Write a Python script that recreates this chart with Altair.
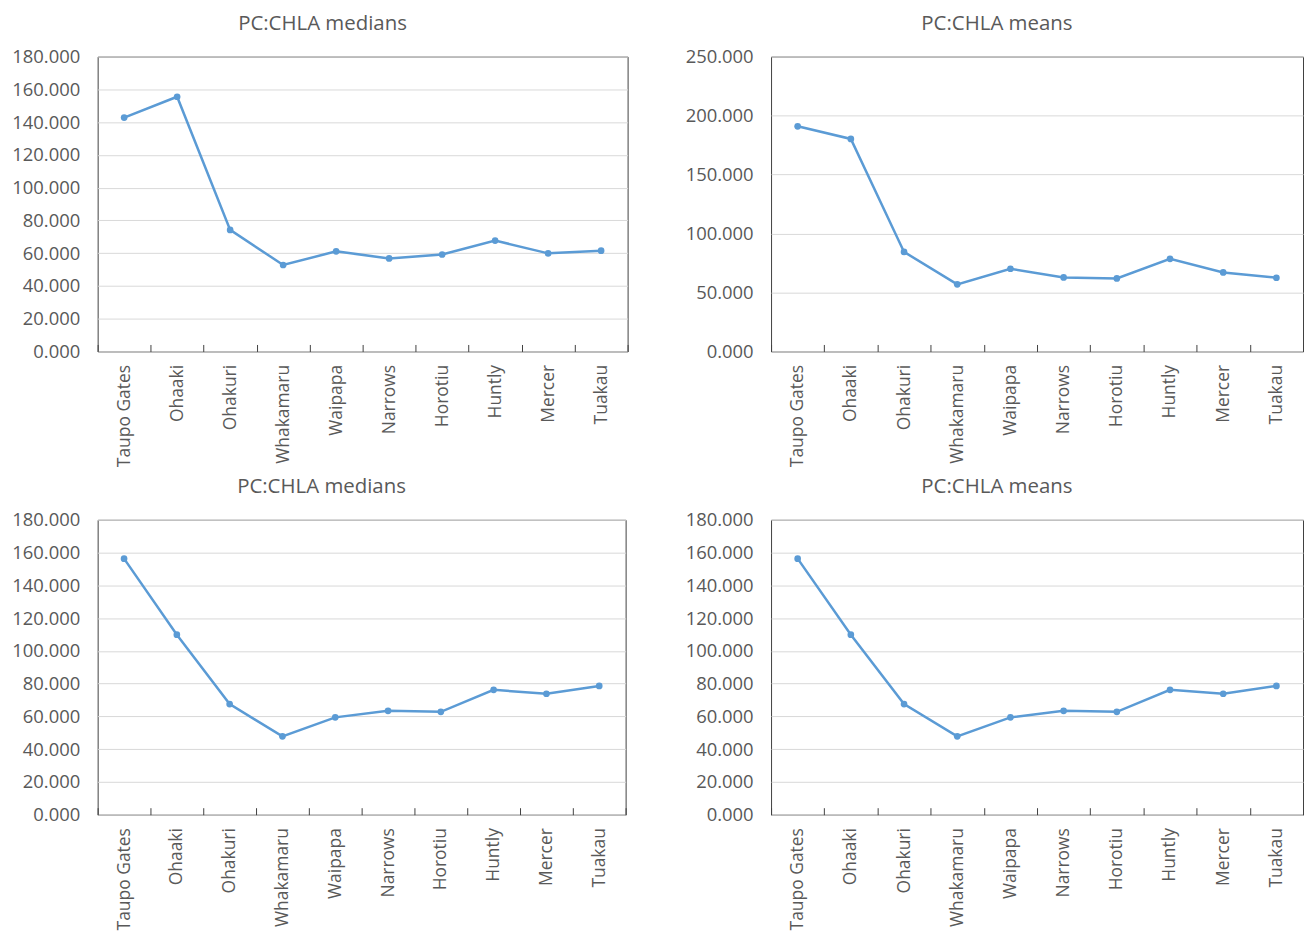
import altair as alt
import pandas as pd

sites = ["Taupo Gates", "Ohaaki", "Ohakuri", "Whakamaru", "Waipapa",
         "Narrows", "Horotiu", "Huntly", "Mercer", "Tuakau"]

top_medians = [142.8, 155.5, 74.2, 52.8, 61.1, 56.8, 59.2, 67.7, 59.9, 61.5]
top_means = [190.9, 180.2, 84.4, 56.9, 70.1, 62.8, 61.9, 78.5, 67.0, 62.5]
bottom_medians = [156.3, 109.9, 67.5, 47.8, 59.4, 63.4, 62.8, 76.2, 73.8, 78.6]
bottom_means = [156.3, 109.9, 67.5, 47.8, 59.4, 63.4, 62.8, 76.2, 73.8, 78.6]

ticks_180 = [0, 20, 40, 60, 80, 100, 120, 140, 160, 180]
ticks_250 = [0, 50, 100, 150, 200, 250]

BLUE = "#5B9BD5"
TEXT = "#595959"
FONT = "Open Sans"


def panel(values, title, ymax, yticks, width, height):
    df = pd.DataFrame({"site": sites, "value": values})
    x = alt.X(
        "site:N", sort=sites,
        scale=alt.Scale(type="band", paddingInner=0, paddingOuter=0),
        axis=alt.Axis(
            title=None, labelAngle=-90, tickBand="extent", domain=False,
            ticks=True, tickSize=7, offset=-7, tickColor="#404040",
            labelPadding=13, labelFont=FONT, labelFontSize=17.5,
            labelColor=TEXT, labelLimit=200, minExtent=110, maxExtent=110,
        ),
    )
    y = alt.Y(
        "value:Q",
        scale=alt.Scale(domain=[0, ymax], nice=False, zero=True),
        axis=alt.Axis(
            title=None, values=yticks, format=".3f", domain=False, ticks=False,
            gridColor="#D9D9D9", gridWidth=1, labelPadding=18,
            labelFont=FONT, labelFontSize=18.5, labelColor=TEXT,
            minExtent=89, maxExtent=89,
        ),
    )
    base = alt.Chart(df)
    line = base.mark_line(color=BLUE, strokeWidth=2.5).encode(x=x, y=y)
    pts = base.mark_circle(color=BLUE, size=45, opacity=1).encode(x=x, y=y)
    return alt.layer(line, pts).properties(
        width=width, height=height,
        title=alt.TitleParams(title, font=FONT, fontSize=20.5, fontWeight="normal",
                              color=TEXT, anchor="middle", frame="bounds",
                              offset=13, dx=4),
    )


p1 = panel(top_medians, "PC:CHLA medians", 180, ticks_180, 532, 296)
p2 = panel(top_means, "PC:CHLA means", 250, ticks_250, 534, 296)
p3 = panel(bottom_medians, "PC:CHLA medians", 180, ticks_180, 530, 296)
p4 = panel(bottom_means, "PC:CHLA means", 180, ticks_180, 534, 296)

row1 = alt.hconcat(p1, p2, spacing=53)
row2 = alt.hconcat(p3, p4, spacing=55)

chart = alt.vconcat(row1, row2, spacing=9).properties(
    padding={"top": 4, "left": 0, "right": 0, "bottom": 0}, background="white"
).configure_view(stroke="#404040", strokeWidth=1)

chart.save("out.html", embed_options={"renderer": "svg", "actions": False})
